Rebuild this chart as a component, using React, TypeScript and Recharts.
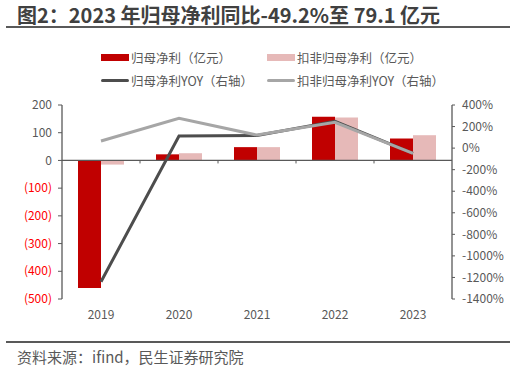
import { Bar, ComposedChart, Line, ReferenceLine, XAxis, YAxis } from "recharts";

const YEARS = ["2019", "2020", "2021", "2022", "2023"];
const NET_PROFIT = [-460, 22, 48, 158, 79.1];
const NET_PROFIT_DEDUCTED = [-15, 26, 48, 155, 91];
const NET_YOY = [-1240, 112, 118, 248, -49.2];
const DEDUCTED_YOY = [66, 276, 121, 240, -48];
const LEFT_TICKS = [-500, -400, -300, -200, -100, 0, 100, 200];
const RIGHT_TICKS = [-1400, -1200, -1000, -800, -600, -400, -200, 0, 200, 400];

const FONT = '"Noto Sans CJK SC", "Noto Sans", sans-serif';
const GREY = "#595959";
const RED = "#c00000";
const PINK = "#e6b9b8";
const DARK_LINE = "#4d4d4d";
const LIGHT_LINE = "#a6a6a6";

const data = YEARS.map((year, i) => ({
  year,
  net: NET_PROFIT[i],
  deducted: NET_PROFIT_DEDUCTED[i],
  netYoy: NET_YOY[i],
  deductedYoy: DEDUCTED_YOY[i],
}));

function LeftTick({ x, y, payload }: any) {
  const v = payload.value as number;
  return (
    <text x={x} y={y} dy="0.35em" textAnchor="end" fontSize={12} fontFamily={FONT} fill={v < 0 ? "#ff0000" : GREY}>
      {v < 0 ? `(${-v})` : v}
    </text>
  );
}

// zero line with small ticks between the categories
function ZeroLine(props: any) {
  const { x1, y1, x2 } = props;
  const step = (x2 - x1) / YEARS.length;
  return (
    <g>
      <line x1={x1} y1={y1} x2={x2} y2={y1} stroke={GREY} strokeWidth={1.3} />
      {YEARS.slice(1).map((_, i) => (
        <line key={i} x1={x1 + step * (i + 1)} y1={y1} x2={x1 + step * (i + 1)} y2={y1 + 3} stroke={GREY} strokeWidth={1} />
      ))}
    </g>
  );
}

const LEGEND = [
  { label: "归母净利（亿元）", color: RED, kind: "bar" },
  { label: "扣非归母净利（亿元）", color: PINK, kind: "bar" },
  { label: "归母净利YOY（右轴）", color: DARK_LINE, kind: "line" },
  { label: "扣非归母净利YOY（右轴）", color: LIGHT_LINE, kind: "line" },
];

export default function App() {
  return (
    <div style={{ position: "absolute", left: 0, top: 0, width: 516, height: 369, background: "#fff", fontFamily: FONT }}>
      <div style={{ position: "absolute", left: 17, top: 3, fontSize: 20, fontWeight: 700, color: "#404040", whiteSpace: "nowrap", lineHeight: "24px" }}>
        图2：2023 年归母净利同比-49.2%至 79.1 亿元
      </div>
      <div style={{ position: "absolute", left: 6, top: 26, width: 504, height: 2, background: GREY }} />

      {LEGEND.map((item, i) => {
        const left = i % 2 === 0 ? 101 : 267;
        const top = i < 2 ? 57 : 80;
        return (
          <div key={item.label} style={{ position: "absolute", left, top: top - 9, height: 18, display: "flex", alignItems: "center", whiteSpace: "nowrap" }}>
            <span style={{ display: "inline-block", width: 28, height: item.kind === "bar" ? 7 : 3, background: item.color, borderRadius: item.kind === "line" ? 2 : 0 }} />
            <span style={{ marginLeft: 2, fontSize: 12.5, color: GREY }}>{item.label}</span>
          </div>
        );
      })}

      <div style={{ position: "absolute", left: 0, top: 0 }}>
        <ComposedChart width={516} height={369} data={data} margin={{ top: 105, right: 0, bottom: 40, left: 0 }} barGap={0} barSize={23}>
          <XAxis dataKey="year" axisLine={false} tickLine={false} tickSize={0} tickMargin={11} height={30}
            tick={{ fontSize: 12, fill: GREY, fontFamily: FONT }} />
          <YAxis yAxisId="left" domain={[-500, 200]} ticks={LEFT_TICKS} width={62} interval={0}
            axisLine={{ stroke: GREY, strokeWidth: 1.3 }} tickLine={{ stroke: GREY }} tickSize={4} tickMargin={6}
            tick={<LeftTick />} />
          <YAxis yAxisId="right" orientation="right" domain={[-1400, 400]} ticks={RIGHT_TICKS} width={64} interval={0}
            axisLine={{ stroke: GREY, strokeWidth: 1.3 }} tickLine={{ stroke: GREY }} tickSize={3} tickMargin={7}
            tickFormatter={(v: number) => `${v}%`} tick={{ fontSize: 12, fill: GREY, fontFamily: FONT }} />
          <Bar yAxisId="left" dataKey="net" fill={RED} isAnimationActive={false} />
          <Bar yAxisId="left" dataKey="deducted" fill={PINK} isAnimationActive={false} />
          <ReferenceLine yAxisId="left" y={0} shape={<ZeroLine />} />
          <Line yAxisId="right" dataKey="netYoy" stroke={DARK_LINE} strokeWidth={3} dot={false} isAnimationActive={false} />
          <Line yAxisId="right" dataKey="deductedYoy" stroke={LIGHT_LINE} strokeWidth={3} dot={false} isAnimationActive={false} />
        </ComposedChart>
      </div>

      <div style={{ position: "absolute", left: 6, top: 341, width: 504, height: 2, background: GREY }} />
      <div style={{ position: "absolute", left: 17, top: 347, fontSize: 15, color: GREY, whiteSpace: "nowrap", lineHeight: "20px" }}>
        资料来源：ifind，民生证券研究院
      </div>
    </div>
  );
}
